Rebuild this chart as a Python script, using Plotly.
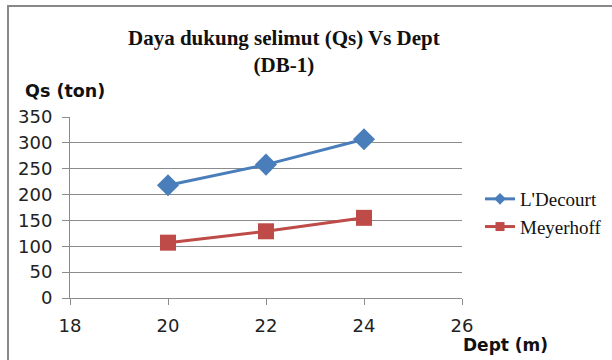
import plotly.graph_objects as go

# Depth (m) and shaft bearing capacity Qs (ton) for borehole DB-1
depth = [20, 22, 24]
qs_decourt = [218, 258, 307]
qs_meyerhoff = [107, 129, 155]

x_ticks = [18, 20, 22, 24, 26]
y_ticks = [0, 50, 100, 150, 200, 250, 300, 350]

BLUE = "#4A7EBB"
RED = "#BE4B48"
GRID = "#8C8C8C"
SANS = "DejaVu Sans"
SERIF = "Liberation Serif"

fig = go.Figure()
fig.add_trace(go.Scatter(
    x=depth, y=qs_decourt, name="L'Decourt", mode="lines+markers",
    line=dict(color=BLUE, width=3), legendgroup="d", showlegend=False,
    marker=dict(symbol="diamond", size=17, color=BLUE),
))
fig.add_trace(go.Scatter(
    x=depth, y=qs_meyerhoff, name="Meyerhoff", mode="lines+markers",
    line=dict(color=RED, width=3), legendgroup="m", showlegend=False,
    marker=dict(symbol="square", size=16, color=RED),
))
# legend keys with smaller symbols
fig.add_trace(go.Scatter(
    x=[None], y=[None], name="L'Decourt", mode="lines+markers",
    line=dict(color=BLUE, width=3), legendgroup="d",
    marker=dict(symbol="diamond", size=9, color=BLUE),
))
fig.add_trace(go.Scatter(
    x=[None], y=[None], name="Meyerhoff", mode="lines+markers",
    line=dict(color=RED, width=3), legendgroup="m",
    marker=dict(symbol="square", size=9, color=RED),
))

L, R, T, B = 70, 150, 117, 62
W, H = 612, 360
pw, ph = W - L - R, H - T - B


def px(x):
    return (x - L) / pw


def py(y):
    return (H - B - y) / ph


fig.update_layout(
    width=W, height=H,
    margin=dict(l=L, r=R, t=T, b=B, pad=0, autoexpand=False),
    paper_bgcolor="white", plot_bgcolor="white",
    showlegend=True,
    legend=dict(
        x=px(480), y=py(180), xanchor="left", yanchor="top",
        font=dict(family=SERIF, size=19, color="#111"),
        itemsizing="trace", tracegroupgap=0,
        bgcolor="rgba(0,0,0,0)",
    ),
    xaxis=dict(
        range=[18, 26], tickvals=x_ticks, showgrid=False, zeroline=False,
        showline=True, linecolor=GRID, linewidth=1, automargin=False,
        ticks="outside", ticklen=6, tickcolor=GRID, ticklabelstandoff=5,
        tickfont=dict(family=SANS, size=18, color="#222"),
    ),
    yaxis=dict(
        range=[0, 350], tickvals=y_ticks, showgrid=True, gridcolor=GRID,
        gridwidth=1, zeroline=False, automargin=False,
        showline=True, linecolor=GRID, linewidth=1,
        ticks="outside", ticklen=7, tickcolor=GRID, ticklabelstandoff=6,
        tickfont=dict(family=SANS, size=18, color="#222"),
    ),
    annotations=[
        dict(text="<b>Daya dukung selimut (Qs) Vs Dept<br>(DB-1)</b>",
             x=px(284), y=py(51), xref="paper", yref="paper",
             xanchor="center", yanchor="middle", showarrow=False,
             font=dict(family=SERIF, size=21, color="#111")),
        dict(text="<b>Qs (ton)</b>", x=px(23), y=py(91), xref="paper",
             yref="paper", xanchor="left", yanchor="middle", showarrow=False,
             font=dict(family=SANS, size=17.5, color="#111")),
        dict(text="<b>Dept (m)</b>", x=px(461), y=py(345), xref="paper",
             yref="paper", xanchor="left", yanchor="middle", showarrow=False,
             font=dict(family=SANS, size=17, color="#111")),
    ],
    shapes=[
        dict(type="line", xref="paper", yref="paper",
             x0=px(8), x1=px(8), y0=py(5), y1=py(362),
             line=dict(color="#888888", width=2)),
        dict(type="line", xref="paper", yref="paper",
             x0=px(7), x1=px(614), y0=py(6), y1=py(6),
             line=dict(color="#888888", width=2)),
    ],
)

fig.write_html("out.html")
